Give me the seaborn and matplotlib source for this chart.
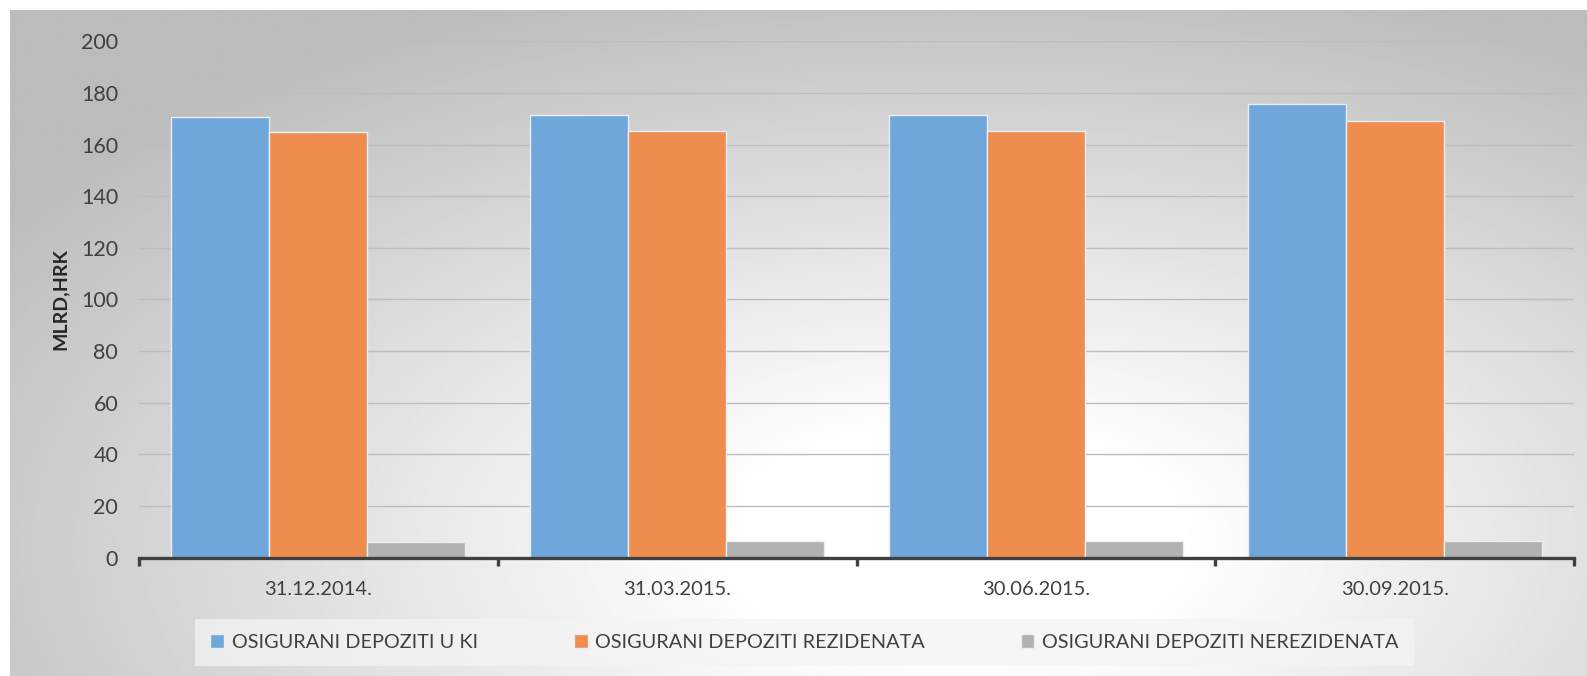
import numpy as np
import pandas as pd
import matplotlib
matplotlib.use("Agg")
import matplotlib.pyplot as plt
import seaborn as sns

dates = ["31.12.2014.", "31.03.2015.", "30.06.2015.", "30.09.2015."]
series = ["OSIGURANI DEPOZITI U KI", "OSIGURANI DEPOZITI REZIDENATA", "OSIGURANI DEPOZITI NEREZIDENATA"]
u_ki = [170.8, 171.4, 171.5, 175.8]
rezidenti = [164.8, 165.2, 165.2, 169.1]
nerezidenti = [6.2, 6.3, 6.3, 6.6]
colors = ["#70A7DA", "#EE8D4E", "#B1B1B1"]

df = pd.DataFrame({
    "date": dates * 3,
    "serija": [series[0]] * 4 + [series[1]] * 4 + [series[2]] * 4,
    "value": u_ki + rezidenti + nerezidenti,
})

sns.set_style("white")
plt.rcParams["font.family"] = ["Lato", "DejaVu Sans"]

fig = plt.figure(figsize=(15.87, 6.76), dpi=100)

# background with radial gradient, like the excel chart area
bg = fig.add_axes([10 / 1587, 0, 1 - 10 / 1587, 1 - 10 / 676], zorder=-5)
yy, xx = np.mgrid[0:1:300j, 0:1:700j]
r = np.sqrt(((xx - 0.6) / 0.7) ** 2 + ((yy - 0.8) / 0.85) ** 2)
shade = 1.0 - 0.25 * np.clip((r - 0.2) / 0.8, 0, 1.05)
bg.imshow(shade, cmap="gray", vmin=0, vmax=1, aspect="auto", extent=[0, 1, 0, 1], origin="upper")
bg.set_axis_off()

ax = fig.add_axes([139 / 1587, 0.175, (1574 - 139) / 1587, 0.764])
ax.patch.set_alpha(0)
sns.barplot(data=df, x="date", y="value", hue="serija", palette=colors, width=0.82,
            saturation=1, edgecolor="#e8eef5", linewidth=1, ax=ax, legend=False)

ax.set_ylim(0, 200)
ax.set_yticks(range(0, 201, 20))
ax.yaxis.grid(True, color="#bdbdbd", linewidth=1)
ax.set_axisbelow(True)
ax.set_xlim(-0.5, 3.5)
ax.set_xlabel("")
ax.set_ylabel("MLRD,HRK", fontsize=14, fontweight="bold", color="#262626", labelpad=9)
for s in ["top", "right", "left"]:
    ax.spines[s].set_visible(False)
ax.spines["bottom"].set_color("#404040")
ax.spines["bottom"].set_linewidth(2.4)
ax.tick_params(axis="y", length=0, labelsize=15.5, labelcolor="#404040", pad=15)
ax.tick_params(axis="x", which="major", bottom=False, length=0, labelsize=14.5, labelcolor="#404040", pad=17)
ax.set_xticks(np.arange(-0.5, 4, 1), minor=True)
ax.tick_params(axis="x", which="minor", bottom=True, length=6, width=2.4, color="#404040", direction="out")

handles = [plt.Rectangle((0, 0), 1, 1, facecolor=c, edgecolor="#e8eef5") for c in colors]
leg = fig.legend(handles, series, loc="center", bbox_to_anchor=(0.507, 0.050), ncol=3,
                 fontsize=14.3, frameon=True, fancybox=False, handlelength=0.7, handleheight=0.7,
                 handletextpad=0.4, columnspacing=4.8, borderpad=0.75, borderaxespad=0)
leg.get_frame().set_facecolor("#f4f4f4")
leg.get_frame().set_alpha(0.75)
leg.get_frame().set_edgecolor("none")
for t in leg.get_texts():
    t.set_color("#404040")

fig.savefig("out.png", dpi=100)
